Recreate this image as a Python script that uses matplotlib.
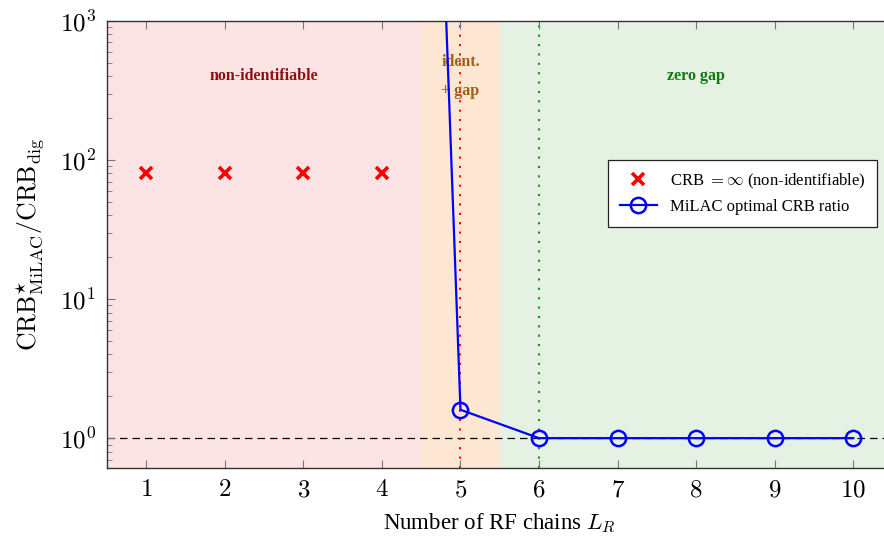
import numpy as np
import matplotlib.pyplot as plt

plt.rcParams['font.family'] = ['Liberation Serif', 'DejaVu Serif']
plt.rcParams['mathtext.fontset'] = 'cm'

# data
non_ident_L = [1, 2, 3, 4]
non_ident_val = [80, 80, 80, 80]          # placeholder markers for CRB = inf
milac_L = [4, 5, 6, 7, 8, 9, 10]
milac_ratio = [4e15, 1.6, 1.0, 1.0, 1.0, 1.0, 1.0]

# shaded regimes
regions = [(0.5, 4.5, '#fde4e4'), (4.5, 5.5, '#fde7d3'), (5.5, 10.5, '#e5f2e3')]
region_labels = ['non-identifiable', 'ident.\n+ gap', 'zero gap']
region_label_x = [2.5, 5.0, 8.0]
region_label_colors = ['#8b1111', '#a0601a', '#107a10']

fig = plt.figure(figsize=(8.84, 5.37), dpi=100)
ax = fig.add_axes([0.121, 0.1285, 0.8887, 0.8325])

for x0, x1, c in regions:
    ax.axvspan(x0, x1, color=c, lw=0, zorder=0)

ax.axhline(1.0, color='black', ls=(0, (6, 4)), lw=0.9, zorder=1)
ax.axvline(5, color='red', ls=(0, (1, 3.5)), lw=1.5, zorder=1)
ax.axvline(6, color='#0a9a0a', ls=(0, (1, 3.5)), lw=1.5, zorder=1)

for lab, x, c in zip(region_labels, region_label_x, region_label_colors):
    ax.text(x, 400, lab, color=c, ha='center', va='center', fontsize=11.5,
            fontweight='bold', linespacing=2.1, zorder=2)

ax.plot(non_ident_L, non_ident_val, ls='none', marker='x', color='red',
        ms=9, mew=2.6, label=r'CRB $=\infty$ (non-identifiable)', zorder=3)
ax.plot(milac_L, milac_ratio, color='blue', lw=1.6, marker='o', ms=11,
        mfc='none', mew=1.8, label='MiLAC optimal CRB ratio', zorder=4)

ax.set_yscale('log')
ax.set_ylim(0.61, 1000)
ax.set_xlim(0.5, 10.5)
ax.set_xticks(range(1, 11))
ax.set_yticks([1, 10, 100, 1000])

ax.tick_params(axis='both', which='both', direction='in', color='#777777',
               top=True, right=True, labelsize=18)
ax.tick_params(axis='both', which='major', length=6, pad=8)
ax.tick_params(axis='y', which='minor', length=3.5)
ax.set_xticklabels([f'${i}$' for i in range(1, 11)])
ax.set_yticklabels([r'$10^{0}$', r'$10^{1}$', r'$10^{2}$', r'$10^{3}$'])

for s in ax.spines.values():
    s.set_color('#333333')
    s.set_linewidth(1.0)

ax.set_xlabel(r'Number of RF chains $L_R$', fontsize=16.5, labelpad=8)
ax.set_ylabel(r'$\mathrm{CRB}^{\star}_{\mathrm{MiLAC}}/\mathrm{CRB}_{\mathrm{dig}}$',
              fontsize=18.5, labelpad=10)

leg = ax.legend(loc='upper left', bbox_to_anchor=(0.638, 0.689), fontsize=12,
                fancybox=False, framealpha=1.0, edgecolor='#222222',
                handlelength=2.2, borderpad=0.7, borderaxespad=0)
leg.get_frame().set_linewidth(0.9)

fig.savefig('out.png', dpi=100)
